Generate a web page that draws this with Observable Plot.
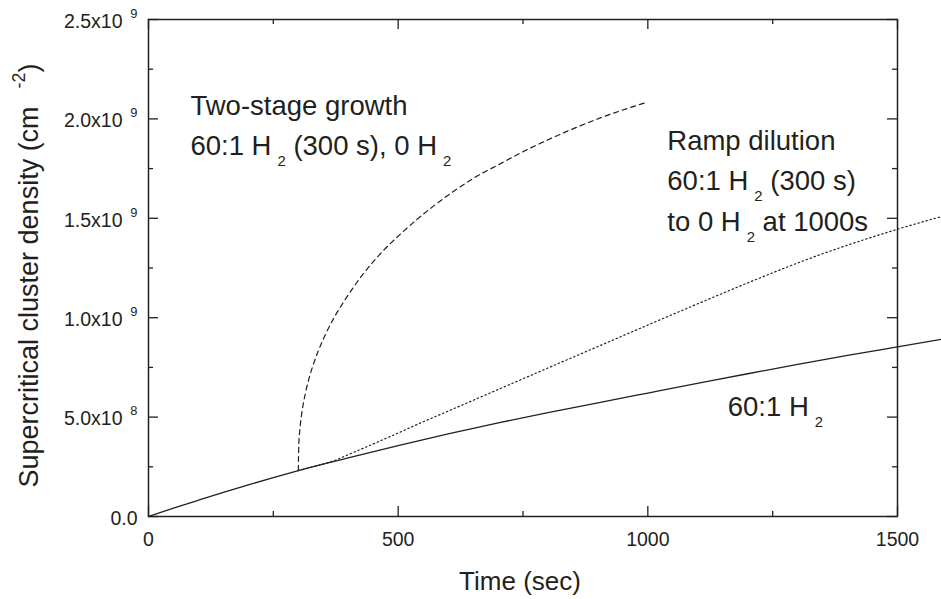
<!DOCTYPE html>
<html>
<head>
<meta charset="utf-8">
<script src="https://cdn.jsdelivr.net/npm/d3@7"></script>
<script src="https://cdn.jsdelivr.net/npm/@observablehq/plot@0.6"></script>
<style>
  html, body { margin: 0; padding: 0; background: white; overflow: hidden; }
</style>
</head>
<body>
<div id="chart"></div>
<script>
// ---- Data (density in units of 1e9 cm^-2, time in s) ----
const solidT = [0, 50, 100, 150, 200, 250, 300, 400, 500, 600, 705, 800, 900, 1000, 1125, 1200, 1300, 1400, 1500, 1590];
const solidV = [0, 0.042, 0.082, 0.121, 0.159, 0.196, 0.231, 0.295, 0.357, 0.416, 0.473, 0.522, 0.572, 0.621, 0.682, 0.718, 0.765, 0.810, 0.853, 0.892];

const dashedT = [300, 301, 303, 306, 310, 315, 321, 330, 340, 355, 370, 391, 430, 471, 500, 538, 570, 605, 650, 705, 750, 800, 850, 905, 950, 1000];
const dashedV = [0.231, 0.359, 0.434, 0.502, 0.567, 0.629, 0.690, 0.764, 0.833, 0.919, 0.993, 1.08, 1.22, 1.339, 1.41, 1.495, 1.56, 1.625, 1.70, 1.775, 1.835, 1.895, 1.95, 2.005, 2.045, 2.085];

const dottedT = [300, 330, 350, 371, 400, 450, 500, 538, 600, 705, 800, 900, 1000, 1100, 1200, 1300, 1346, 1400, 1500, 1590];
const dottedV = [0.231, 0.250, 0.264, 0.280, 0.311, 0.365, 0.420, 0.463, 0.530, 0.644, 0.747, 0.855, 0.963, 1.070, 1.175, 1.275, 1.318, 1.365, 1.445, 1.510];

const xTicks = [0, 500, 1000, 1500];
const xTickLabels = ["0", "500", "1000", "1500"];
const xMinor = [250, 750, 1250];
const yTicks = [0, 0.5, 1.0, 1.5, 2.0, 2.5];
const yTickLabels = ["0.0", "5.0x10{^8}", "1.0x10{^9}", "1.5x10{^9}", "2.0x10{^9}", "2.5x10{^9}"];
const yMinor = [0.25, 0.75, 1.25, 1.75, 2.25];

const annotations = [
  {t: 84, v: 1.816, label: "Two-stage growth\n60:1 H{_2} (300 s), 0 H{_2}"},
  {t: 1039, v: 1.4386, label: "Ramp dilution\n60:1 H{_2} (300 s)\nto 0 H{_2} at 1000s"},
  {t: 1160, v: 0.508, label: "60:1 H{_2}"}
];
const xTitle = "Time (sec)";
const yTitle = "Supercritical cluster density (cm{^-2|18})";

// ---- Build tables ----
const solid = solidT.map((t, i) => ({t, v: solidV[i]}));
const dashed = dashedT.map((t, i) => ({t, v: dashedV[i]}));
const dotted = dottedT.map((t, i) => ({t, v: dottedV[i]}));

const ink = "#231f20";
const xDomain = [0, 1500], yDomain = [0, 2.5];
// tick lengths expressed in data units (frame is 749 x 497 px)
const sx = 1500 / 749, sy = 2.5 / 497;
const majX = 10 * sx, minX = 5 * sx, majY = 10 * sy, minY = 5 * sy;

const tickMarks = (arr, lenY) => [
  Plot.ruleX(arr, {x: d => d, y1: 0, y2: lenY, stroke: ink, strokeWidth: 1.3}),
  Plot.ruleX(arr, {x: d => d, y1: 2.5 - lenY, y2: 2.5, stroke: ink, strokeWidth: 1.3})
];
const tickMarksY = (arr, lenX) => [
  Plot.ruleY(arr, {y: d => d, x1: 0, x2: lenX, stroke: ink, strokeWidth: 1.3}),
  Plot.ruleY(arr, {y: d => d, x1: 1500 - lenX, x2: 1500, stroke: ink, strokeWidth: 1.3})
];

const chart = Plot.plot({
  width: 941,
  height: 599,
  marginLeft: 148,
  marginRight: 44,
  marginTop: 19,
  marginBottom: 83,
  style: {fontFamily: "'Liberation Sans', Arial, Helvetica, sans-serif", color: ink, background: "white"},
  x: {domain: xDomain},
  y: {domain: yDomain},
  marks: [
    Plot.line(solid, {x: "t", y: "v", stroke: ink, strokeWidth: 1.3, curve: "monotone-x"}),
    Plot.line(dashed, {x: "t", y: "v", stroke: ink, strokeWidth: 1.2, strokeDasharray: "5,4", curve: "monotone-x"}),
    Plot.line(dotted, {x: "t", y: "v", stroke: ink, strokeWidth: 1.2, strokeDasharray: "1.4,2.8", curve: "monotone-x"}),
    ...tickMarks(xTicks, majY),
    ...tickMarks(xMinor, minY),
    ...tickMarksY(yTicks, majX),
    ...tickMarksY(yMinor, minX),
    Plot.frame({stroke: ink, strokeWidth: 1.5}),
    Plot.axisX({ticks: xTicks, tickSize: 0, tickPadding: 16, fontSize: 19.5, label: null,
      tickFormat: d => xTickLabels[xTicks.indexOf(d)]}),
    Plot.axisY({ticks: yTicks, tickSize: 0, tickPadding: 11, fontSize: 19.5, label: null, dy: 2,
      tickFormat: d => yTickLabels[yTicks.indexOf(d)]}),
    Plot.text(annotations, {x: "t", y: "v", text: "label", textAnchor: "start", lineAnchor: "bottom",
      lineHeight: 1.46, fontSize: 27.5, fill: ink}),
    Plot.text([xTitle], {frameAnchor: "bottom", dx: -3, dy: 73, lineAnchor: "bottom", textAnchor: "middle",
      fontSize: 26, fill: ink}),
    Plot.text([yTitle], {frameAnchor: "left", rotate: -90, dx: -111, dy: 219.5, lineAnchor: "bottom",
      textAnchor: "start", fontSize: 27, fill: ink})
  ]
});

document.getElementById("chart").appendChild(chart);

// ---- Convert {_x} / {^x} markers into real sub/superscript tspans ----
const NS = "http://www.w3.org/2000/svg";
const targets = [];
chart.querySelectorAll("text, tspan").forEach(el => {
  if (el.children.length === 0 && el.textContent.includes("{")) targets.push(el);
});
for (const el of targets) {
  const fs = parseFloat(getComputedStyle(el).fontSize) || 16;
  const s = el.textContent;
  el.textContent = "";
  const re = /\{([_^])([^}|]*)(?:\|([0-9.]+))?\}/g;
  let last = 0, m;
  while ((m = re.exec(s))) {
    if (m.index > last) el.appendChild(document.createTextNode(s.slice(last, m.index)));
    const t = document.createElementNS(NS, "tspan");
    t.textContent = m[2];
    if (m[1] === "_") {
      t.setAttribute("font-size", (0.54 * fs).toFixed(1));
      t.setAttribute("baseline-shift", (-0.4 * fs).toFixed(1));
      t.setAttribute("dx", m[3] ?? (0.22 * fs).toFixed(1));
    } else {
      t.setAttribute("font-size", (0.66 * fs).toFixed(1));
      t.setAttribute("baseline-shift", (0.5 * fs).toFixed(1));
      t.setAttribute("dx", m[3] ?? (0.4 * fs).toFixed(1));
    }
    el.appendChild(t);
    last = re.lastIndex;
  }
  if (last < s.length) el.appendChild(document.createTextNode(s.slice(last)));
}
</script>
</body>
</html>
